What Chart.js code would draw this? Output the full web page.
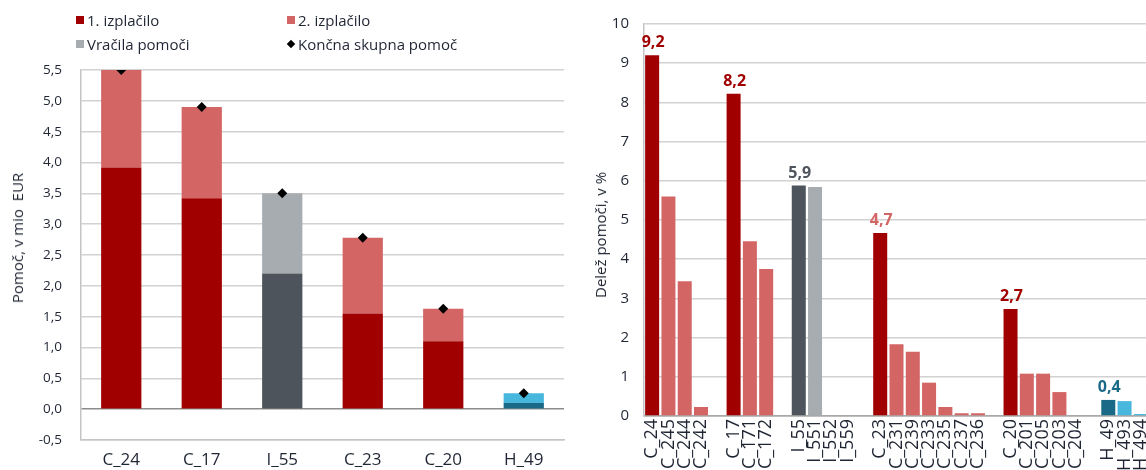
<!DOCTYPE html>
<html lang="sl">
<head>
<meta charset="utf-8">
<title>Pomoč – izplačila in delež pomoči</title>
<script src="https://cdn.jsdelivr.net/npm/chart.js@4.4.1/dist/chart.umd.min.js"></script>
<style>
  html, body { margin: 0; padding: 0; background: #fff; overflow: hidden; }
  body { width: 1146px; height: 470px; position: relative; font-family: 'Open Sans', sans-serif; color: #1f2533; }
  .wrap { position: absolute; top: 0; height: 470px; }
  #left-wrap { left: 0; width: 575px; }
  #right-wrap { left: 575px; width: 580px; }
  .legend-item { position: absolute; font-size: 15px; line-height: 20px; white-space: nowrap; transform: translateY(-50%); }
  .legend-item i { position: absolute; left: -11px; top: 6px; width: 8px; height: 8px; }
  .legend-item i.diamond { width: 6px; height: 6px; left: -10px; top: 7px; transform: rotate(45deg); }
  .ytitle { position: absolute; font-size: 15px; white-space: nowrap; transform: translate(-50%, -50%) rotate(-90deg); }
</style>
</head>
<body>
<div class="wrap" id="left-wrap"><canvas id="left-chart" width="575" height="470"></canvas></div>
<div class="wrap" id="right-wrap"><canvas id="right-chart" width="580" height="470"></canvas></div>
<div id="legend"></div>
<div class="ytitle" style="left:17px; top:238px;">Pomoč, v mio&nbsp; EUR</div>
<div class="ytitle" style="left:600px; top:235px;">Delež pomoči, v %</div>
<script>
// --- data ---
const leftCategories = ['C_24', 'C_17', 'I_55', 'C_23', 'C_20', 'H_49'];
const firstPayment = [3.92, 3.42, 2.2, 1.55, 1.1, 0.1];
const secondPayment = [1.58, 1.48, null, 1.23, 0.53, 0.16];
const repayments = [null, null, 1.3, null, null, null];
const finalAid = [5.5, 4.9, 3.5, 2.78, 1.63, 0.26];
const leftTicks = [-0.5, 0, 0.5, 1, 1.5, 2, 2.5, 3, 3.5, 4, 4.5, 5, 5.5];

const rightCategories = [
  'C_24', 'C_245', 'C_244', 'C_242', '',
  'C_17', 'C_171', 'C_172', '',
  'I_55', 'I_551', 'I_552', 'I_559', '',
  'C_23', 'C_231', 'C_239', 'C_233', 'C_235', 'C_237', 'C_236', '',
  'C_20', 'C_201', 'C_205', 'C_203', 'C_204', '',
  'H_49', 'H_493', 'H_494',
];
const rightValues = [
  9.2, 5.6, 3.44, 0.23, null,
  8.22, 4.46, 3.75, null,
  5.88, 5.84, 0, 0, null,
  4.67, 1.83, 1.64, 0.85, 0.23, 0.07, 0.07, null,
  2.73, 1.08, 1.08, 0.61, 0, null,
  0.41, 0.38, 0.05,
];
// bar kind per category: which colour family it belongs to
const rightKinds = [
  'first', 'second', 'second', 'second', '',
  'first', 'second', 'second', '',
  'slate', 'grey', 'grey', 'grey', '',
  'first', 'second', 'second', 'second', 'second', 'second', 'second', '',
  'first', 'second', 'second', 'second', 'second', '',
  'teal', 'blue', 'blue',
];
// which bars carry a value label, and in which colour family
const rightLabelKinds = [
  'first', '', '', '', '',
  'first', '', '', '',
  'slate', '', '', '', '',
  'second', '', '', '', '', '', '', '',
  'first', '', '', '', '', '',
  'teal', '', '',
];

// --- styles ---
const C = {
  first: '#a00000',
  second: '#d46565',
  grey: '#a7acb1',
  slate: '#4e545b',
  teal: '#1a6a87',
  blue: '#48b7de',
  ink: '#1f2533',
  grid: '#d2d2d2',
  axis: '#c4c4c4',
  zero: '#8c8c8c',
};
const FONT = "'Open Sans', sans-serif";
const comma = (v, d) => v.toFixed(d).replace('.', ',');

Chart.defaults.font.family = FONT;
Chart.defaults.color = C.ink;

// --- left: stacked payments ---
const firstColors = leftCategories.map((c) => c.startsWith('I') ? C.slate : c.startsWith('H') ? C.teal : C.first);
const secondColors = leftCategories.map((c) => c.startsWith('H') ? C.blue : C.second);

const leftDatasets = [
  { type: 'line', label: 'Končna skupna pomoč', data: finalAid, showLine: false, pointStyle: 'rectRot',
    pointRadius: 5, pointHoverRadius: 5, pointBackgroundColor: '#000', pointBorderColor: '#000', borderWidth: 0,
    order: 0, stack: 'marker' },
  { label: '1. izplačilo', data: firstPayment, backgroundColor: firstColors, order: 1, stack: 'aid', legendColor: C.first },
  { label: '2. izplačilo', data: secondPayment, backgroundColor: secondColors, order: 1, stack: 'aid', legendColor: C.second },
  { label: 'Vračila pomoči', data: repayments, backgroundColor: C.grey, order: 1, stack: 'aid', legendColor: C.grey },
];

new Chart(document.getElementById('left-chart'), {
  type: 'bar',
  data: { labels: leftCategories, datasets: leftDatasets },
  options: {
    responsive: false,
    animation: false,
    devicePixelRatio: 1,
    layout: { padding: { top: 70, right: 11, left: 0, bottom: 0 } },
    datasets: { bar: { categoryPercentage: 1, barPercentage: 0.5 } },
    plugins: { legend: { display: false }, tooltip: { enabled: false } },
    scales: {
      x: {
        stacked: true,
        grid: { display: false, drawTicks: false },
        border: { color: C.axis, width: 1.5 },
        ticks: { color: C.ink, font: { size: 17 }, padding: 10, autoSkip: false, maxRotation: 0 },
        afterFit: (s) => { s.height = 30; s.paddingLeft = 0; s.paddingRight = 0; },
      },
      y: {
        stacked: true,
        min: -0.5,
        max: 5.5,
        afterBuildTicks: (s) => { s.ticks = leftTicks.map((v) => ({ value: v })); },
        grid: { color: (ctx) => ctx.tick && ctx.tick.value === 0 ? C.zero : C.grid, lineWidth: 1.5, drawTicks: false },
        border: { color: C.axis, width: 1.5 },
        ticks: { color: C.ink, font: { size: 13.5 }, padding: 19, callback: (v) => comma(v, 1) },
        afterFit: (s) => { s.width = 81; },
      },
    },
  },
});

// legend built from the left datasets, two columns as in the source
const legendOrder = [leftDatasets[1], leftDatasets[2], leftDatasets[3], leftDatasets[0]];
const legendEl = document.getElementById('legend');
legendOrder.forEach((ds, i) => {
  const item = document.createElement('div');
  item.className = 'legend-item';
  item.style.left = (87 + (i % 2) * 211) + 'px';
  item.style.top = (20 + Math.floor(i / 2) * 24) + 'px';
  const mark = document.createElement('i');
  if (ds.type === 'line') { mark.className = 'diamond'; mark.style.background = '#000'; }
  else mark.style.background = ds.legendColor;
  item.appendChild(mark);
  item.appendChild(document.createTextNode(ds.label));
  legendEl.appendChild(item);
});

// --- right: share of aid ---
const valueLabels = {
  id: 'valueLabels',
  afterDatasetsDraw(chart) {
    const { ctx } = chart;
    const meta = chart.getDatasetMeta(0);
    ctx.save();
    ctx.font = `bold 16px ${FONT}`;
    ctx.textAlign = 'center';
    ctx.textBaseline = 'alphabetic';
    meta.data.forEach((bar, i) => {
      const kind = rightLabelKinds[i];
      if (!kind || rightValues[i] == null) return;
      ctx.fillStyle = C[kind];
      ctx.fillText(comma(rightValues[i], 1), bar.x + 1, bar.y - 8);
    });
    ctx.restore();
  },
};

new Chart(document.getElementById('right-chart'), {
  type: 'bar',
  data: {
    labels: rightCategories,
    datasets: [{ label: 'Delež pomoči', data: rightValues, backgroundColor: rightKinds.map((k) => C[k] || 'transparent') }],
  },
  plugins: [valueLabels],
  options: {
    responsive: false,
    animation: false,
    devicePixelRatio: 1,
    layout: { padding: { top: 19, right: 6, left: 0, bottom: 0 } },
    datasets: { bar: { categoryPercentage: 1, barPercentage: 0.86 } },
    plugins: { legend: { display: false }, tooltip: { enabled: false } },
    scales: {
      x: {
        grid: { display: false, drawTicks: false },
        border: { color: '#a9a9a9', width: 1.5 },
        ticks: { color: C.ink, font: { size: 18 }, padding: 3, autoSkip: false, minRotation: 90, maxRotation: 90 },
        afterFit: (s) => { s.height = 54; s.paddingLeft = 0; s.paddingRight = 0; },
      },
      y: {
        min: 0,
        max: 10,
        ticks: { stepSize: 1, color: C.ink, font: { size: 15 }, padding: 15 },
        grid: { color: (ctx) => ctx.tick && ctx.tick.value === 0 ? '#a9a9a9' : C.grid, lineWidth: 1.5, drawTicks: false },
        border: { color: C.axis, width: 1.5 },
        afterFit: (s) => { s.width = 69; },
      },
    },
  },
});
</script>
</body>
</html>
